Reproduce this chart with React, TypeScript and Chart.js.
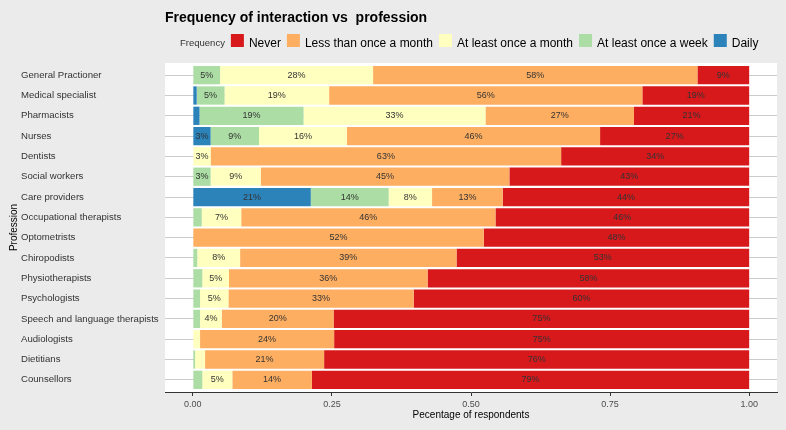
import React, { useEffect, useRef } from "react";
import { Chart, registerables } from "chart.js";

Chart.register(...registerables);

const FONT = "'Liberation Sans', Arial, sans-serif";

const professions = [
  "General Practioner",
  "Medical specialist",
  "Pharmacists",
  "Nurses",
  "Dentists",
  "Social workers",
  "Care providers",
  "Occupational therapists",
  "Optometrists",
  "Chiropodists",
  "Physiotherapists",
  "Psychologists",
  "Speech and language therapists",
  "Audiologists",
  "Dietitians",
  "Counsellors",
];

const daily = [0, 0.007, 0.012, 0.032, 0, 0, 0.212, 0, 0, 0, 0, 0, 0, 0, 0, 0];
const weekly = [0.049, 0.05, 0.187, 0.087, 0, 0.032, 0.14, 0.016, 0, 0.008, 0.017, 0.013, 0.013, 0, 0.004, 0.017];
const monthly = [0.275, 0.188, 0.327, 0.158, 0.032, 0.09, 0.078, 0.071, 0, 0.077, 0.048, 0.051, 0.039, 0.013, 0.018, 0.054];
const lessMonthly = [0.583, 0.563, 0.267, 0.455, 0.63, 0.447, 0.127, 0.457, 0.523, 0.389, 0.357, 0.333, 0.201, 0.241, 0.214, 0.143];
const never = [0.093, 0.192, 0.207, 0.268, 0.338, 0.431, 0.443, 0.456, 0.477, 0.526, 0.578, 0.603, 0.747, 0.746, 0.764, 0.786];

const seriesNames = ["Daily", "At least once a week", "At least once a month", "Less than once a month", "Never"];
const seriesColors = ["#2B83BA", "#ABDDA4", "#FFFFBF", "#FDAE61", "#D7191C"];
const seriesValues = [daily, weekly, monthly, lessMonthly, never];

const xTicks = [0, 0.25, 0.5, 0.75, 1];

const titleText = "Frequency of interaction vs  profession";
const legendTitle = "Frequency";
const xTitle = "Pecentage of respondents";
const yTitle = "Profession";

const decor = {
  id: "decor",
  beforeDraw(chart: any) {
    const { ctx, chartArea } = chart;
    ctx.save();
    ctx.fillStyle = "#EBEBEB";
    ctx.fillRect(0, 0, chart.width, chart.height);
    ctx.fillStyle = "#FFFFFF";
    ctx.fillRect(chartArea.left, chartArea.top, chartArea.right - chartArea.left, chartArea.bottom - chartArea.top);
    ctx.restore();
  },
  afterDatasetsDraw(chart: any) {
    const ctx = chart.ctx;
    ctx.save();
    ctx.font = `9px ${FONT}`;
    ctx.fillStyle = "#333333";
    ctx.textAlign = "center";
    ctx.textBaseline = "middle";
    chart.data.datasets.forEach((_ds: any, di: number) => {
      const meta = chart.getDatasetMeta(di);
      meta.data.forEach((el: any, i: number) => {
        const v = seriesValues[di][i];
        if (v < 0.025) return;
        const p = el.getProps(["x", "y", "base"], true);
        ctx.fillText(Math.round(v * 100) + "%", (p.x + p.base) / 2, p.y);
      });
    });
    ctx.restore();
  },
  afterDraw(chart: any) {
    const { ctx, chartArea } = chart;
    ctx.save();
    // title
    ctx.fillStyle = "#000000";
    ctx.font = `bold 14px ${FONT}`;
    ctx.textAlign = "left";
    ctx.textBaseline = "alphabetic";
    ctx.fillText(titleText, chartArea.left, 22);

    // legend
    let x = 180;
    const base = 46.5;
    ctx.font = `9.5px ${FONT}`;
    ctx.fillStyle = "#333333";
    ctx.fillText(legendTitle, x, base - 1);
    x += ctx.measureText(legendTitle).width + 6;
    ctx.font = `12px ${FONT}`;
    for (let k = seriesNames.length - 1; k >= 0; k--) {
      ctx.fillStyle = seriesColors[k];
      ctx.fillRect(x, 34, 13, 13);
      x += 13 + 5;
      ctx.fillStyle = "#000000";
      ctx.fillText(seriesNames[k], x, base);
      x += ctx.measureText(seriesNames[k]).width + 6;
    }

    // y title
    ctx.font = `10px ${FONT}`;
    ctx.fillStyle = "#000000";
    ctx.translate(14, (chartArea.top + chartArea.bottom) / 2);
    ctx.rotate(-Math.PI / 2);
    ctx.textAlign = "center";
    ctx.textBaseline = "middle";
    ctx.fillText(yTitle, 0, 0);
    ctx.restore();
  },
};

export default function App() {
  const ref = useRef<HTMLCanvasElement | null>(null);

  useEffect(() => {
    if (!ref.current) return;
    const chart = new Chart(ref.current, {
      type: "bar",
      data: {
        datasets: seriesValues.map((vals, k) => ({
          label: seriesNames[k],
          data: vals.map((v, i) => ({ x: v, y: i })),
          backgroundColor: seriesColors[k],
          borderWidth: 0,
          barPercentage: 0.9,
          categoryPercentage: 1,
        })),
      },
      options: {
        indexAxis: "y",
        animation: false,
        responsive: false,
        maintainAspectRatio: false,
        layout: { padding: { left: 21, right: 9, top: 63, bottom: 0 } },
        plugins: {
          legend: { display: false },
          tooltip: { enabled: false },
          title: { display: false },
        },
        scales: {
          x: {
            type: "linear",
            stacked: true,
            min: -0.05,
            max: 1.05,
            afterBuildTicks: (s: any) => {
              s.ticks = xTicks.map((v) => ({ value: v }));
            },
            afterFit: (s: any) => {
              s.height = 38;
            },
            ticks: {
              callback: (v: any) => Number(v).toFixed(2),
              font: { size: 9, family: FONT },
              color: "#4D4D4D",
              padding: 3,
              autoSkip: false,
              maxRotation: 0,
            },
            grid: {
              drawOnChartArea: false,
              drawTicks: true,
              tickLength: 4,
              color: "#333333",
              lineWidth: 1,
            },
            border: { display: true, color: "#333333", width: 1 },
            title: {
              display: true,
              text: xTitle,
              font: { size: 10, family: FONT },
              color: "#000000",
              padding: { top: 0, bottom: 9 },
            },
          },
          y: {
            type: "linear",
            stacked: true,
            reverse: true,
            offset: false,
            min: -0.6,
            max: 15.6,
            afterBuildTicks: (s: any) => {
              s.ticks = professions.map((_p, i) => ({ value: i }));
            },
            afterFit: (s: any) => {
              s.width = 144;
            },
            ticks: {
              callback: (v: any) => professions[Number(v)],
              crossAlign: "far",
              font: { size: 9.6, family: FONT },
              color: "#333333",
              autoSkip: false,
            },
            grid: { color: "#CCCCCC", drawTicks: false, lineWidth: 1, offset: false },
            border: { display: false },
          },
        },
      },
      plugins: [decor],
    } as any);
    return () => chart.destroy();
  }, []);

  return (
    <div style={{ position: "absolute", left: 0, top: 0, width: 786, height: 430 }}>
      <canvas ref={ref} width={786} height={430} style={{ display: "block" }} />
    </div>
  );
}
